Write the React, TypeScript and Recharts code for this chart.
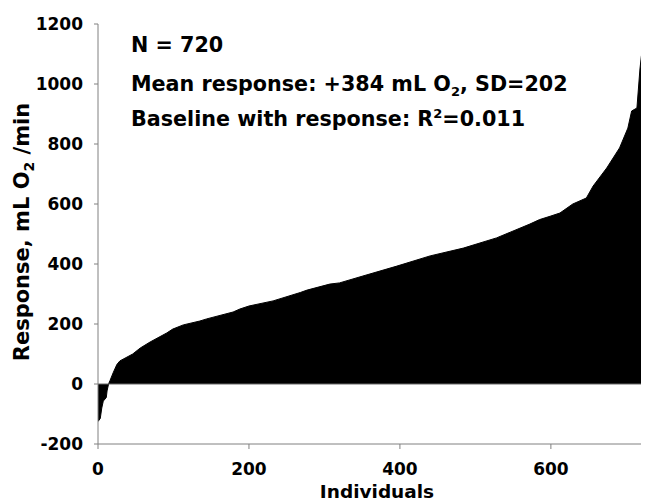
import React from "react";
import {
  AreaChart,
  Area,
  XAxis,
  YAxis,
  ReferenceLine,
} from "recharts";

// individuals (rank) and response
const individuals = [
  0, 3, 5, 7, 11, 12, 14, 16, 20, 25, 29, 46, 56, 69, 91, 99, 113, 135, 144,
  179, 188, 200, 232, 268, 277, 307, 320, 351, 396, 440, 484, 528, 572, 585,
  600, 612, 629, 647, 656, 674, 691, 702, 707, 714, 718, 720,
];
const responses = [
  -125, -115, -80, -57, -45, -23, 0, 12, 37, 65, 77, 100, 120, 140, 170, 183,
  197, 210, 217, 240, 250, 260, 277, 305, 313, 333, 337, 360, 393, 427, 453,
  487, 533, 548, 560, 570, 600, 620, 660, 720, 787, 853, 910, 920, 1050, 1095,
];
const xTicks = [0, 200, 400, 600];
const yTicks = [-200, 0, 200, 400, 600, 800, 1000, 1200];

const data = individuals.map((x, i) => ({ x, y: responses[i] }));

const FONT = "'DejaVu Sans', sans-serif";
const tickStyle = { fontFamily: FONT, fontSize: 17, fontWeight: 700, fill: "#000" };

export default function App() {
  return (
    <div
      style={{
        position: "relative",
        width: 649,
        height: 502,
        marginLeft: -8,
        marginTop: -8,
        background: "#fff",
      }}
    >
      <AreaChart
        width={649}
        height={502}
        data={data}
        margin={{ top: 24, right: 0, left: 0, bottom: 28 }}
      >
        <XAxis
          dataKey="x"
          type="number"
          domain={[0, 730]}
          ticks={xTicks}
          tick={tickStyle}
          tickSize={5}
          tickMargin={14}
          height={30}
          stroke="#808080"
          allowDataOverflow
        />
        <YAxis
          type="number"
          domain={[-200, 1200]}
          ticks={yTicks}
          tick={tickStyle}
          tickSize={4}
          tickMargin={11}
          width={98}
          stroke="#808080"
          allowDataOverflow
        />
        <ReferenceLine y={0} stroke="#666" strokeWidth={1} />
        <Area
          type="linear"
          dataKey="y"
          stroke="#000"
          strokeWidth={1}
          fill="#000"
          fillOpacity={1}
          baseValue={0}
          isAnimationActive={false}
        />
      </AreaChart>
      <svg
        width={649}
        height={502}
        style={{ position: "absolute", left: 0, top: 0, pointerEvents: "none" }}
      >
        <g fontFamily={FONT} fontWeight={700} fill="#000" fontSize={20.7}>
          <text x={131} y={52}>N = 720</text>
          <text x={131} y={91}>
            Mean response: +384 mL O
            <tspan fontSize={13} dy={5}>2</tspan>
            <tspan dy={-5}>, SD=202</tspan>
          </text>
          <text x={131} y={126}>
            Baseline with response: R
            <tspan fontSize={13} dy={-8}>2</tspan>
            <tspan dy={8}>=0.011</tspan>
          </text>
          <text x={377} y={498} textAnchor="middle" fontSize={18.5}>
            Individuals
          </text>
          <text
            x={29}
            y={232}
            textAnchor="middle"
            fontSize={21}
            transform="rotate(-90, 29, 232)"
          >
            Response, mL O
            <tspan fontSize={14} dy={5}>2</tspan>
            <tspan dy={-5}> /min</tspan>
          </text>
        </g>
      </svg>
    </div>
  );
}
